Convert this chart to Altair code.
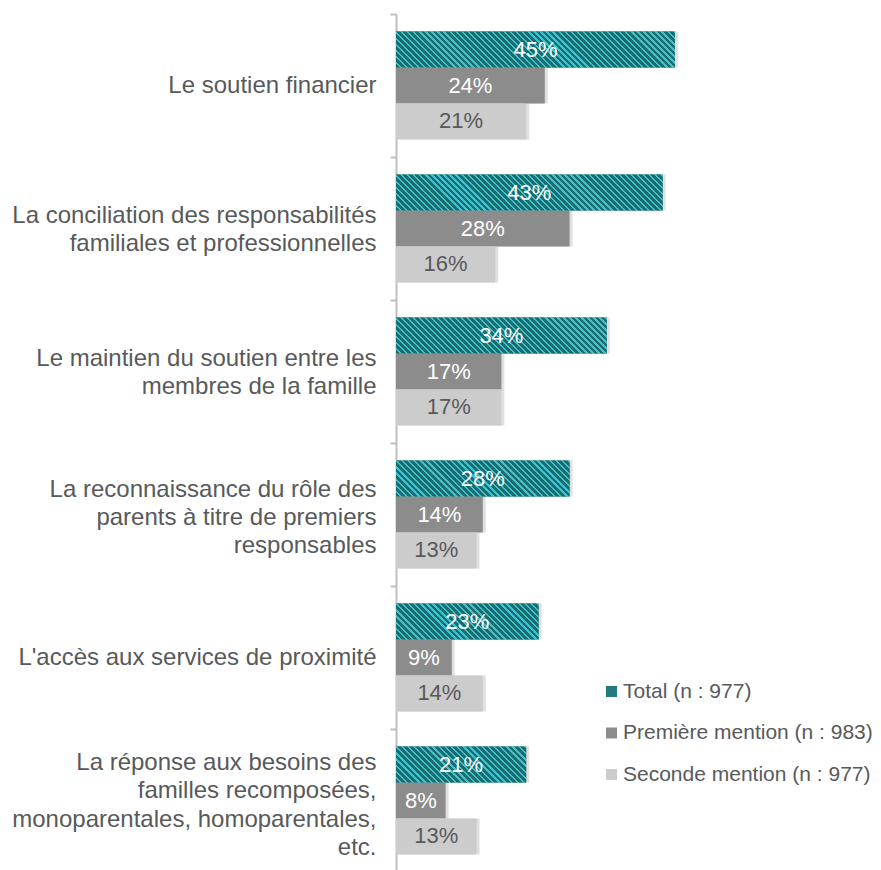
import altair as alt
import pandas as pd

categories = [
    "Le soutien financier",
    "La conciliation des responsabilités|familiales et professionnelles",
    "Le maintien du soutien entre les|membres de la famille",
    "La reconnaissance du rôle des|parents à titre de premiers|responsables",
    "L'accès aux services de proximité",
    "La réponse aux besoins des|familles recomposées,|monoparentales, homoparentales,|etc.",
]
series = ["Total (n : 977)", "Première mention (n : 983)", "Seconde mention (n : 977)"]
total = [45, 43, 34, 28, 23, 21]
premiere = [24, 28, 17, 14, 9, 8]
seconde = [21, 16, 17, 13, 14, 13]

rows = []
for i, c in enumerate(categories):
    for s, vals in zip(series, [total, premiere, seconde]):
        rows.append({"cat": c, "serie": s, "value": vals[i]})
df = pd.DataFrame(rows)

FONT = "Liberation Sans"
TXT = "#58595b"
W, H = 465, 858
XMAX = 75
PX = W / XMAX
BAR_H = (H / len(categories)) / (3 + 2 * 0.49)

y = alt.Y("cat:N", sort=categories,
          scale=alt.Scale(paddingInner=0, paddingOuter=0),
          axis=alt.Axis(title=None, labelExpr="split(datum.label, '|')",
                        labelFont=FONT, labelFontSize=24, labelColor=TXT,
                        labelLineHeight=28.3, labelPadding=14, labelLimit=420,
                        labelOffset=alt.ExprRef("-(length(split(datum.label, '|')) - 1) * 12.5"),
                        bandPosition=0, tickSize=6, tickColor="#bfbfbf",
                        domainColor="#bfbfbf", domainWidth=2, tickWidth=2))
yoff = alt.YOffset("serie:N", sort=series,
                   scale=alt.Scale(paddingInner=0, paddingOuter=0.49))
xscale = alt.Scale(domain=[0, XMAX], nice=False)
x = alt.X("value:Q", scale=xscale, axis=None)

color = alt.Color("serie:N", sort=series,
                  scale=alt.Scale(domain=series, range=["#247b7e", "#8c8c8c", "#cccccc"]),
                  legend=alt.Legend(title=None, orient="none", legendX=205, legendY=667,
                                    padding=0, symbolType="square", symbolSize=121,
                                    symbolStrokeWidth=0, labelFont=FONT,
                                    labelFontSize=21, labelColor=TXT, labelLimit=320,
                                    rowPadding=19.5, labelOffset=1, symbolOffset=0))

shadow = alt.Chart(df).mark_bar(color="#000000", opacity=0.12, xOffset=3, yOffset=3).encode(
    y=y, yOffset=yoff, x=x)

bars = alt.Chart(df).mark_bar().encode(y=y, yOffset=yoff, x=x, color=color)


def stripe_gradient(value):
    w = value * PX
    h = BAR_H
    c = (w + h) / (w * w + h * h)
    n = max(1, round((w + h) / (2 ** 0.5 * 4.3)))
    stops = []
    for k in range(n):
        a = k / n
        b = (k + 0.62) / n
        e = (k + 1) / n
        stops += [
            alt.GradientStop(offset=a, color="#1b6c6f"),
            alt.GradientStop(offset=b, color="#1b6c6f"),
            alt.GradientStop(offset=b, color="#3fc2cd"),
            alt.GradientStop(offset=e, color="#3fc2cd"),
        ]
    return alt.LinearGradient(gradient="linear", x1=0, y1=1, x2=c * w, y2=1 - c * h,
                              stops=stops)


stripe_layers = []
for i, c in enumerate(categories):
    stripe_layers.append(
        alt.Chart(df).transform_filter(
            (alt.datum.serie == series[0]) & (alt.datum.cat == c)
        ).mark_bar(fill=stripe_gradient(total[i])).encode(y=y, yOffset=yoff, x=x)
    )

text = alt.Chart(df).transform_calculate(
    mid="datum.value / 2", lbl="datum.value + '%'"
).mark_text(font=FONT, fontSize=22, baseline="middle", align="center").encode(
    y=y, yOffset=yoff,
    x=alt.X("mid:Q", scale=xscale, axis=None),
    text="lbl:N",
    color=alt.condition("datum.serie == 'Seconde mention (n : 977)'",
                        alt.value(TXT), alt.value("white")),
)

chart = alt.layer(shadow, bars, *stripe_layers, text).properties(
    width=W, height=H,
    autosize=alt.AutoSizeParams(type="none"),
    padding={"top": 6, "left": 388, "right": 12, "bottom": 0},
).configure_view(stroke=None)

chart.save("out.html", embed_options={"renderer": "svg", "actions": False})
